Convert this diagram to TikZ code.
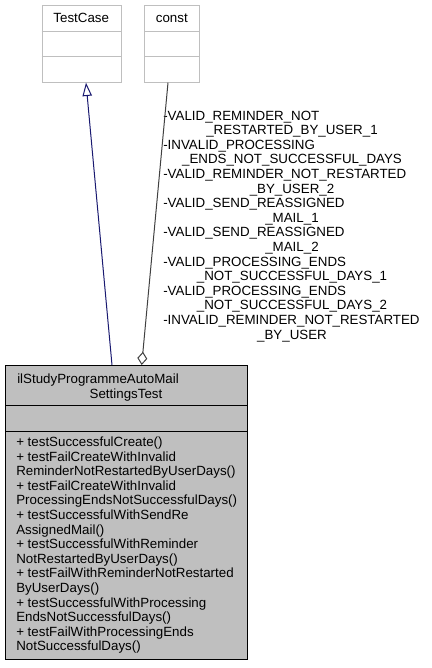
\documentclass[tikz,border=0pt]{standalone}
\usepackage{fontspec}
\setmainfont{Liberation Sans}
\usetikzlibrary{arrows.meta,calc}
\definecolor{lightborder}{HTML}{BFBFBF}
\definecolor{mainfill}{HTML}{BFBFBF}
\definecolor{navyedge}{HTML}{191970}
\definecolor{darkedge}{HTML}{404040}
\begin{document}
\begin{tikzpicture}[x=0.75pt,y=-0.75pt,
  txt/.style={inner sep=0pt,font=\fontsize{10}{11}\selectfont},
  lft/.style={txt,anchor=base west},
  ctr/.style={txt,anchor=base},
  lightbox/.style={draw=lightborder,fill=white,line width=0.75pt,inner sep=0pt,anchor=north west},
  mainbox/.style={draw=black,fill=mainfill,line width=0.75pt,inner sep=0pt,anchor=north west},
  inherit/.style={draw=navyedge,line width=0.75pt,-{Triangle[open,length=10pt,width=7pt]}},
  usage/.style={draw=darkedge,line width=0.75pt,-{Diamond[open,length=10pt,width=7.5pt]}}
]
\useasboundingbox (0,0) rectangle (432,668);

% TestCase box
\node[lightbox,minimum width=59.25pt,minimum height=57.5pt] (testcase) at (41.7,5) {};
\draw[lightborder,line width=0.75pt] (41.7,31.7) -- (120.7,31.7) (41.7,56.7) -- (120.7,56.7);
\node[ctr] (tctext) at (81.2,22) {TestCase};

% const box
\node[lightbox,minimum width=41.25pt,minimum height=57.5pt] (const) at (144.3,5) {};
\draw[lightborder,line width=0.75pt] (144.3,31.7) -- (199.3,31.7) (144.3,56.7) -- (199.3,56.7);
\node[ctr] (cotext) at (171.8,22) {const};

% main box
\node[mainbox,minimum width=181.5pt,minimum height=220.5pt] (main) at (5,365) {};
\draw[black,line width=0.75pt] (5,405) -- (247,405) (5,431) -- (247,431);
\node[lft] (h1) at (17,383.5) {ilStudyProgrammeAutoMail};
\node[ctr] (h2) at (126,398) {SettingsTest};

\node[lft] (m1)  at (16,446.5) {+ testSuccessfulCreate()};
\node[lft] (m2)  at (16,461.1) {+ testFailCreateWithInvalid};
\node[lft] (m3)  at (16,475.7) {ReminderNotRestartedByUserDays()};
\node[lft] (m4)  at (16,490.3) {+ testFailCreateWithInvalid};
\node[lft] (m5)  at (16,504.9) {ProcessingEndsNotSuccessfulDays()};
\node[lft] (m6)  at (16,519.5) {+ testSuccessfulWithSendRe};
\node[lft] (m7)  at (16,534.1) {AssignedMail()};
\node[lft] (m8)  at (16,548.7) {+ testSuccessfulWithReminder};
\node[lft] (m9)  at (16,563.3) {NotRestartedByUserDays()};
\node[lft] (m10) at (16,577.9) {+ testFailWithReminderNotRestarted};
\node[lft] (m11) at (16,592.5) {ByUserDays()};
\node[lft] (m12) at (16,607.1) {+ testSuccessfulWithProcessing};
\node[lft] (m13) at (16,621.7) {EndsNotSuccessfulDays()};
\node[lft] (m14) at (16,636.3) {+ testFailWithProcessingEnds};
\node[lft] (m15) at (16,650.9) {NotSuccessfulDays()};

% edge label
\node[lft] (l1)  at (163,120.0) {-VALID\_REMINDER\_NOT};
\node[ctr] (l2)  at (292,134.6) {\_RESTARTED\_BY\_USER\_1};
\node[lft] (l3)  at (163,149.2) {-INVALID\_PROCESSING};
\node[ctr] (l4)  at (292,163.8) {\_ENDS\_NOT\_SUCCESSFUL\_DAYS};
\node[lft] (l5)  at (163,178.4) {-VALID\_REMINDER\_NOT\_RESTARTED};
\node[ctr] (l6)  at (292,193.0) {\_BY\_USER\_2};
\node[lft] (l7)  at (163,207.6) {-VALID\_SEND\_REASSIGNED};
\node[ctr] (l8)  at (292,222.2) {\_MAIL\_1};
\node[lft] (l9)  at (163,236.8) {-VALID\_SEND\_REASSIGNED};
\node[ctr] (l10) at (292,251.4) {\_MAIL\_2};
\node[lft] (l11) at (163,266.0) {-VALID\_PROCESSING\_ENDS};
\node[ctr] (l12) at (292,280.6) {\_NOT\_SUCCESSFUL\_DAYS\_1};
\node[lft] (l13) at (163,295.2) {-VALID\_PROCESSING\_ENDS};
\node[ctr] (l14) at (292,309.8) {\_NOT\_SUCCESSFUL\_DAYS\_2};
\node[lft] (l15) at (163,324.4) {-INVALID\_REMINDER\_NOT\_RESTARTED};
\node[ctr] (l16) at (292,339.0) {\_BY\_USER};

% connectors
\coordinate (inhS) at ($(main.north west)+(107,0)$);
\coordinate (inhE) at ($(testcase.south west)+(44.3,0)$);
\coordinate (useS) at ($(const.south west)+(23.7,0)$);
\coordinate (useE) at ($(main.north west)+(136.7,0)$);
\draw[inherit] (inhS) -- (inhE);
\draw[usage] (useS) -- (useE);
\end{tikzpicture}
\end{document}
